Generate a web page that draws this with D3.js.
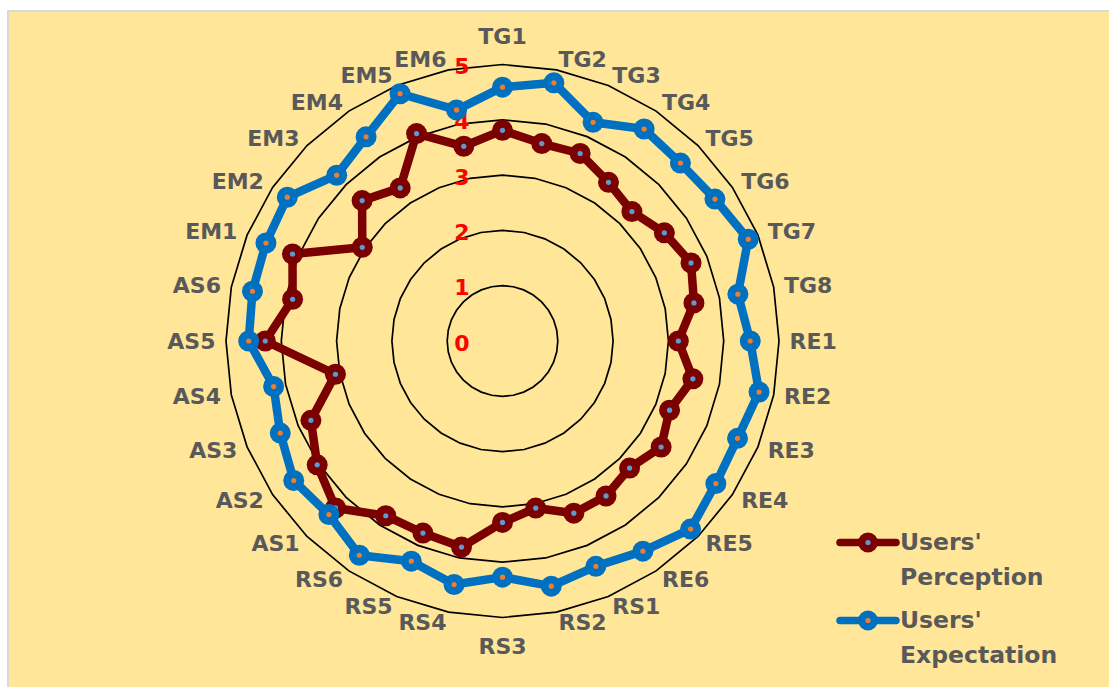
<!DOCTYPE html>
<html>
<head>
<meta charset="utf-8">
<script src="https://cdn.jsdelivr.net/npm/d3@7"></script>
<style>
  html, body { margin: 0; padding: 0; background: #ffffff; }
  svg { display: block; }
</style>
</head>
<body>
<svg id="chart" width="1109" height="687"></svg>
<script>
// ---- data ----
const categories = [
  "TG1","TG2","TG3","TG4","TG5","TG6","TG7","TG8",
  "RE1","RE2","RE3","RE4","RE5","RE6",
  "RS1","RS2","RS3","RS4","RS5","RS6",
  "AS1","AS2","AS3","AS4","AS5","AS6",
  "EM1","EM2","EM3","EM4","EM5","EM6"
];
const perception = [
  3.81, 3.64, 3.67, 3.45, 3.31, 3.52, 3.69, 3.53,
  3.18, 3.51, 3.27, 3.45, 3.25, 3.37,
  3.37, 3.08, 3.28, 3.80, 3.76, 3.80,
  4.27, 4.03, 3.75, 3.08, 4.29, 3.87,
  4.11, 3.05, 3.59, 3.33, 4.06, 3.59
];
const expectation = [
  4.59, 4.76, 4.28, 4.61, 4.55, 4.62, 4.81, 4.34,
  4.48, 4.73, 4.60, 4.64, 4.81, 4.57,
  4.41, 4.52, 4.27, 4.49, 4.31, 4.66,
  4.44, 4.54, 4.35, 4.22, 4.59, 4.61,
  4.63, 4.68, 4.24, 4.44, 4.84, 4.26
];
const tickValues = [0, 1, 2, 3, 4, 5];
const seriesNames = [["Users'", "Perception"], ["Users'", "Expectation"]];

// ---- layout ----
const cx = 502.5, cy = 341, R = 276.5;
const FONT = "'DejaVu Sans', 'Liberation Sans', Arial, sans-serif";
const svg = d3.select("#chart");

// chart area background + border
svg.append("rect")
  .attr("x", 8).attr("y", 11).attr("width", 1200).attr("height", 800)
  .attr("fill", "#FFE699").attr("stroke", "#D9D9D9").attr("stroke-width", 2);

const n = categories.length;
const r = d3.scaleLinear().domain([0, 5]).range([0, R]);
const angle = d3.scaleLinear().domain([0, n]).range([0, 2 * Math.PI]);

const g = svg.append("g").attr("transform", `translate(${cx},${cy})`);

// grid polygons
const gridLine = d3.lineRadial()
  .angle((d, i) => angle(i))
  .radius(d => r(d))
  .curve(d3.curveLinearClosed);

tickValues.filter(v => v > 0).forEach(v => {
  g.append("path")
    .attr("d", gridLine(d3.range(n).map(() => v)))
    .attr("fill", "none")
    .attr("stroke", "#000000")
    .attr("stroke-width", 1.7);
});

// ring value labels
g.selectAll("text.tick")
  .data(tickValues)
  .enter().append("text")
  .attr("class", "tick")
  .attr("x", -33)
  .attr("y", d => -r(d) + 2)
  .attr("text-anchor", "end")
  .attr("dominant-baseline", "central")
  .attr("font-family", FONT)
  .attr("font-weight", "bold")
  .attr("font-size", 22)
  .attr("fill", "#FF0000")
  .text(d => d);

// category labels
const LR = 287;
g.selectAll("text.cat")
  .data(categories)
  .enter().append("text")
  .attr("class", "cat")
  .each(function(d, i) {
    const a = angle(i);
    const s = Math.sin(a), c = Math.cos(a);
    const t = d3.select(this);
    if (Math.abs(s) < 0.01) {
      t.attr("x", 0).attr("y", -(LR + 18) * c).attr("text-anchor", "middle");
    } else {
      t.attr("x", LR * s).attr("y", -LR * c).attr("text-anchor", s > 0 ? "start" : "end");
    }
  })
  .attr("dominant-baseline", "central")
  .attr("font-family", FONT)
  .attr("font-weight", "bold")
  .attr("font-size", 22)
  .attr("fill", "#595959")
  .text(d => d);

// series
const series = [
  { name: seriesNames[0], values: perception, color: "#7B0000", dot: "#5B9BD5" },
  { name: seriesNames[1], values: expectation, color: "#0070C0", dot: "#ED7D31" }
];

const seriesLine = d3.lineRadial()
  .angle((d, i) => angle(i))
  .radius(d => r(d))
  .curve(d3.curveLinearClosed);

series.forEach(s => {
  const sg = g.append("g");
  sg.append("path")
    .attr("d", seriesLine(s.values))
    .attr("fill", "none")
    .attr("stroke", s.color)
    .attr("stroke-width", 8.5)
    .attr("stroke-linejoin", "round");
  const pts = s.values.map((v, i) => [r(v) * Math.sin(angle(i)), -r(v) * Math.cos(angle(i))]);
  sg.selectAll("circle.outer").data(pts).enter().append("circle")
    .attr("cx", d => d[0]).attr("cy", d => d[1]).attr("r", 10.5)
    .attr("fill", s.color);
  sg.selectAll("circle.inner").data(pts).enter().append("circle")
    .attr("cx", d => d[0]).attr("cy", d => d[1]).attr("r", 2.6)
    .attr("fill", s.dot);
});

// legend
const legendY = [542.5, 620.5];
series.forEach((s, k) => {
  const y = legendY[k];
  const lg = svg.append("g");
  lg.append("line")
    .attr("x1", 840).attr("x2", 896).attr("y1", y).attr("y2", y)
    .attr("stroke", s.color).attr("stroke-width", 7.5).attr("stroke-linecap", "round");
  lg.append("circle").attr("cx", 868).attr("cy", y).attr("r", 10).attr("fill", s.color);
  lg.append("circle").attr("cx", 868).attr("cy", y).attr("r", 2.6).attr("fill", s.dot);
  s.name.forEach((line, j) => {
    lg.append("text")
      .attr("x", 900).attr("y", y - 1 + j * 35)
      .attr("dominant-baseline", "central")
      .attr("font-family", FONT)
      .attr("font-weight", "bold")
      .attr("font-size", 23.5)
      .attr("fill", "#595959")
      .text(line);
  });
});
</script>
</body>
</html>
